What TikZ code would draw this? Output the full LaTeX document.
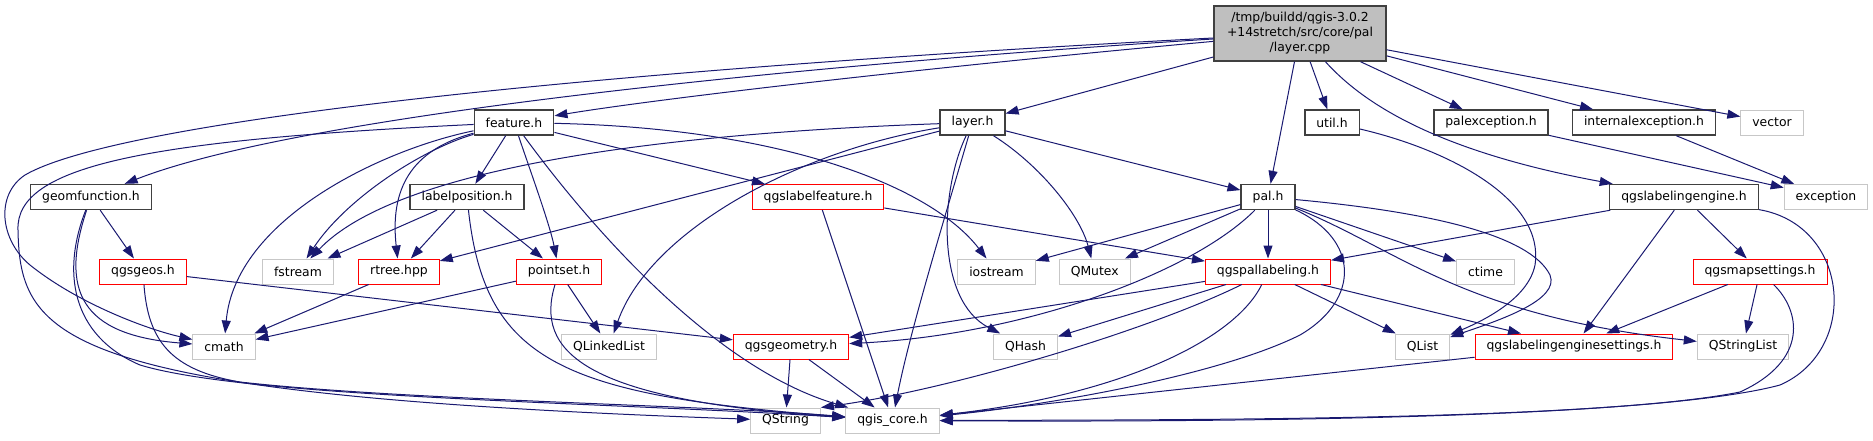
\documentclass[tikz,border=0pt]{standalone}
\usepackage{fontspec}
\setmainfont{DejaVu Sans}
\usetikzlibrary{arrows.meta}
\definecolor{EdgeBlue}{rgb}{0.098, 0.098, 0.439}
\definecolor{DocGrey}{rgb}{0.25, 0.25, 0.25}
\definecolor{SysGrey}{rgb}{0.78, 0.78, 0.78}
\definecolor{RootFill}{rgb}{0.75, 0.75, 0.75}

\begin{document}
\begin{tikzpicture}[
  x=1pt, y=-1pt,
  box/.style   = {rectangle, fill=white, minimum height=25pt,
                  inner xsep=11.5pt, inner ysep=2pt,
                  font=\fontsize{12.4}{15}\selectfont},
  doc/.style   = {box, draw=DocGrey, line width=1.4pt},
  trunc/.style = {box, draw=red, line width=1pt},
  sys/.style   = {box, draw=SysGrey, line width=1pt},
  root/.style  = {box, draw=DocGrey, fill=RootFill, line width=1.4pt,
                  align=center, minimum height=55pt, inner xsep=13pt},
  dep/.style   = {->, EdgeBlue, line width=1pt},
  >={Triangle[length=13pt, width=9pt]},
]
\useasboundingbox (0,0) rectangle (1873,440);

\node[root]  (main)      at (1300,  33.5) {/tmp/buildd/qgis-3.0.2\\+14stretch/src/core/pal\\/layer.cpp};

\node[doc]   (feature)   at (514,  122.5) {feature.h};
\node[doc]   (layer)     at (972.5,122.5) {layer.h};
\node[doc]   (util)      at (1332, 122.5) {util.h};
\node[doc]   (palexc)    at (1491, 122.5) {palexception.h};
\node[doc]   (intexc)    at (1644, 122.5) {internalexception.h};
\node[sys]   (vector)    at (1772, 122.5) {vector};

\node[doc]   (geomfn)    at (91,   197) {geomfunction.h};
\node[doc]   (labelpos)  at (467,  197) {labelposition.h};
\node[trunc] (lblfeat)   at (818,  197) {qgslabelfeature.h};
\node[doc]   (pal)       at (1268, 197) {pal.h};
\node[doc]   (lbleng)    at (1684, 197) {qgslabelingengine.h};
\node[sys]   (exception) at (1826, 197) {exception};

\node[trunc] (geos)      at (143,   271.5) {qgsgeos.h};
\node[sys]   (fstream)   at (298,   271.5) {fstream};
\node[trunc] (rtree)     at (399,   271.5) {rtree.hpp};
\node[trunc] (pointset)  at (559,   271.5) {pointset.h};
\node[sys]   (iostream)  at (996.5, 271.5) {iostream};
\node[sys]   (qmutex)    at (1094.7,271.5) {QMutex};
\node[trunc] (pallbl)    at (1268,  271.5) {qgspallabeling.h};
\node[sys]   (ctime)     at (1485.5,271.5) {ctime};
\node[trunc] (mapset)    at (1760,  271.5) {qgsmapsettings.h};

\node[sys]   (cmath)     at (224,   346.5) {cmath};
\node[sys]   (qlinked)   at (609,   346.5) {QLinkedList};
\node[trunc] (geometry)  at (791,   346.5) {qgsgeometry.h};
\node[sys]   (qhash)     at (1025.5,346.5) {QHash};
\node[sys]   (qlist)     at (1422.5,346.5) {QList};
\node[trunc] (engset)    at (1574,  346.5) {qgslabelingenginesettings.h};
\node[sys]   (qstrlist)  at (1743,  346.5) {QStringList};

\node[sys]   (qstring)   at (785.5, 420.5) {QString};
\node[sys]   (core)      at (892.5, 420.5) {qgis\_core.h};

\foreach \a/\b in {main/layer, main/pal, main/util, main/palexc, main/intexc, main/vector,
    feature/labelpos, feature/lblfeat, labelpos/fstream, labelpos/rtree, labelpos/pointset,
    layer/rtree, layer/pal, geomfn/geos, geos/geometry, rtree/cmath,
    pointset/cmath, pointset/qlinked, lblfeat/core, lblfeat/pallbl,
    pal/qmutex, pal/iostream, pal/pallbl, pal/ctime,
    lbleng/pallbl, lbleng/engset, lbleng/mapset, mapset/engset, mapset/qstrlist, engset/core,
    pallbl/geometry, pallbl/qhash, pallbl/qlist, pallbl/engset,
    palexc/exception, intexc/exception, geometry/qstring, geometry/core}{
  \draw[dep] (\a) -- (\b);
}

\draw[dep] (main) .. controls (600,70) and (120,120) .. (25,175)
  .. controls (-5,195) and (0,240) .. (30,265)
  .. controls (80,305) and (150,330) .. (cmath);
\draw[dep] (main) .. controls (800,65) and (300,115) .. (geomfn);
\draw[dep] (main) .. controls (900,70) and (650,100) .. (feature);
\draw[dep] (main) .. controls (1360,100) and (1430,150) .. (lbleng);

\draw[dep] (feature) .. controls (150,140) and (15,165) .. (18,230)
  .. controls (20,340) and (60,395) .. (qstring);
\draw[dep] (feature) .. controls (780,128) and (930,185) .. (iostream);
\draw[dep] (feature) .. controls (420,150) and (345,200) .. (fstream);
\draw[dep] (feature) .. controls (410,150) and (390,190) .. (rtree);
\draw[dep] (feature) .. controls (380,150) and (235,220) .. (cmath);
\draw[dep] (feature) .. controls (530,170) and (550,225) .. (pointset);
\draw[dep] (feature) .. controls (600,240) and (720,370) .. (core);

\draw[dep] (labelpos) .. controls (485,360) and (560,395) .. (core);

\draw[dep] (layer) .. controls (620,135) and (390,175) .. (fstream);
\draw[dep] (layer) .. controls (800,150) and (650,230) .. (qlinked);
\draw[dep] (layer) .. controls (940,190) and (935,300) .. (qhash);
\draw[dep] (layer) .. controls (950,200) and (910,330) .. (core);
\draw[dep] (layer) .. controls (1040,165) and (1080,215) .. (qmutex);

\draw[dep] (geomfn) .. controls (60,290) and (80,335) .. (cmath);
\draw[dep] (geomfn) .. controls (62,270) and (70,335) .. (140,365)
  .. controls (250,398) and (600,402) .. (core);

\draw[dep] (geos) .. controls (148,340) and (170,370) .. (240,382)
  .. controls (400,400) and (700,405) .. (core);

\draw[dep] (pointset) .. controls (535,350) and (580,400) .. (core);

\draw[dep] (pal) .. controls (1190,275) and (1020,335) .. (geometry);
\draw[dep] (pal) .. controls (1360,240) and (1360,300) .. (1300,335)
  .. controls (1220,375) and (1050,405) .. (core);
\draw[dep] (pal) .. controls (1430,212) and (1530,235) .. (1550,275)
  .. controls (1560,300) and (1500,320) .. (qlist);
\draw[dep] (pal) .. controls (1400,250) and (1460,315) .. (qstrlist);

\draw[dep] (util) .. controls (1450,150) and (1545,200) .. (1535,265)
  .. controls (1528,300) and (1480,322) .. (qlist);

\draw[dep] (lbleng) .. controls (1850,225) and (1860,350) .. (1780,385)
  .. controls (1650,420) and (1200,422) .. (core);
\draw[dep] (mapset) .. controls (1800,310) and (1810,360) .. (1740,392)
  .. controls (1600,420) and (1200,420) .. (core);

\draw[dep] (pallbl) .. controls (1150,330) and (950,390) .. (qstring.north east);
\draw[dep] (pallbl) .. controls (1235,340) and (1120,395) .. (core);

\end{tikzpicture}
\end{document}
